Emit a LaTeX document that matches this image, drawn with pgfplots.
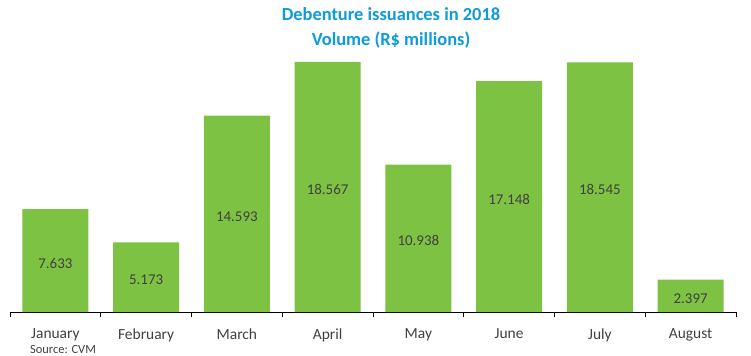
\documentclass[border=0pt]{standalone}
\usepackage{pgfplots}
\pgfplotsset{compat=1.18}
\usepackage{pgfplotstable}
\usepackage{fontspec}
\setmainfont{Carlito}
\definecolor{bargreen}{RGB}{125,194,66}
\definecolor{titleblue}{RGB}{14,155,220}
\definecolor{txtgray}{RGB}{64,64,64}
\pgfplotstableread{
x y label
0 7633 7.633
1 5173 5.173
2 14593 14.593
3 18567 18.567
4 10938 10.938
5 17148 17.148
6 18545 18.545
7 2397 2.397
}\datatable
\begin{document}
\begin{tikzpicture}
\useasboundingbox (-10bp,-44bp) rectangle (741bp,312bp);
\begin{axis}[
  scale only axis,
  width=726bp, height=269.3bp,
  xmin=-0.5, xmax=7.5, ymin=0, ymax=20000,
  axis x line*=bottom, axis y line=none,
  x axis line style={-, black, line width=0.8bp},
  xtick={0,...,7},
  xticklabels={January,February,March,April,May,June,July,August},
  major tick length=0pt,
  extra x ticks={-0.5,0.5,...,7.5},
  extra x tick labels={},
  extra x tick style={major tick length=5bp, tick style={black, line width=0.8bp}, tick align=outside},
  xticklabel style={font=\fontsize{15.5}{17}\selectfont, text=txtgray, yshift=-13bp},
  clip=false,
]
\addplot[ybar, bar width=0.727, fill=bargreen, draw=none] table[x=x, y=y] {\datatable};
\addplot[draw=none, mark=none, nodes near coords, point meta=explicit symbolic,
  every node near coord/.append style={anchor=center, yshift=-2.5bp, font=\fontsize{15}{17}\selectfont, text=txtgray}]
  table[x=x, y expr=\thisrow{y}/2, meta=label] {\datatable};
\node[font=\fontsize{12.5}{14}\selectfont, text=txtgray] at (rel axis cs:0,0) [xshift=53bp, yshift=-38bp] {Source: CVM};
\node[font=\bfseries\fontsize{18.5}{25}\selectfont, text=titleblue, align=center, anchor=center] at (rel axis cs:0,0) [xshift=381bp, yshift=284.5bp] {Debenture issuances in 2018\\Volume (R\$ millions)};
\end{axis}
\end{tikzpicture}
\end{document}
